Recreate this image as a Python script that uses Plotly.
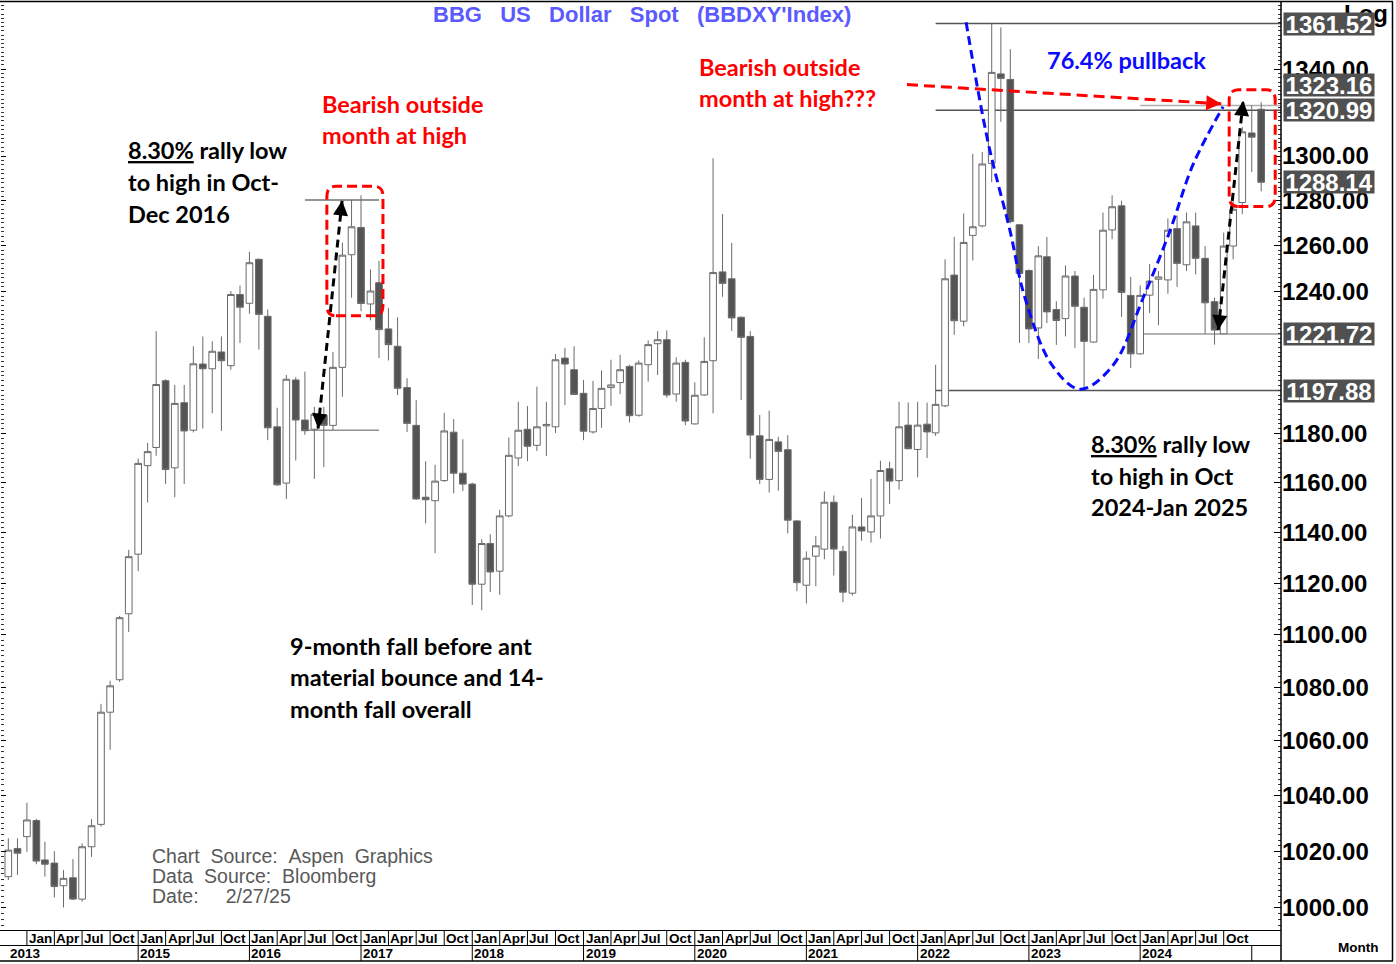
import numpy as np
import pandas as pd
import plotly.graph_objects as go

# ---------------- data (monthly OHLC) ----------------
months = pd.date_range("2013-11-01", periods=136, freq="MS").strftime("%Y-%m-%d").tolist()

open_ = [1011.0, 1021.0,
         1025.2, 1031.0, 1016.9, 1015.8, 1007.8, 1010.6, 1003.1, 1021.6, 1029.6, 1070.7, 1082.9, 1108.1,
         1131.4, 1166.9, 1174.3, 1202.0, 1166.0, 1192.8, 1181.4, 1209.0, 1207.0, 1214.1, 1208.3, 1238.7,
         1234.9, 1254.0, 1229.3, 1182.8, 1159.8, 1202.3, 1185.6, 1181.8, 1187.6, 1183.4, 1207.6, 1256.0,
         1268.0, 1234.6, 1243.8, 1223.9, 1216.5, 1199.1, 1183.4, 1154.1, 1152.7, 1160.8, 1180.6, 1163.8,
         1159.4, 1119.6, 1135.6, 1124.7, 1146.6, 1170.0, 1181.8, 1175.2, 1183.2, 1182.8, 1211.5, 1206.6,
         1196.7, 1180.7, 1190.4, 1199.1, 1201.2, 1208.0, 1187.6, 1208.7, 1217.6, 1219.3, 1196.4, 1209.7,
         1184.0, 1196.0, 1210.4, 1248.5, 1245.5, 1228.9, 1220.7, 1179.1, 1161.3, 1176.6, 1173.4, 1144.6,
         1119.2, 1130.6, 1133.4, 1152.1, 1132.5, 1116.1, 1142.2, 1140.2, 1146.6, 1165.6, 1160.8, 1183.5,
         1173.5, 1183.9, 1180.3, 1191.5, 1247.1, 1227.2, 1264.5, 1268.7, 1296.7, 1337.8, 1335.2, 1269.2,
         1249.1, 1224.3, 1255.1, 1232.2, 1228.3, 1246.7, 1233.2, 1218.3, 1240.7, 1266.9, 1277.6, 1238.3,
         1213.3, 1238.4, 1245.3, 1245.0, 1267.5, 1251.6, 1268.7, 1254.4, 1235.6, 1221.8, 1259.8, 1279.1,
         1310.5, 1321.4]

high = [1024.6, 1024.6,
        1037.4, 1031.6, 1023.4, 1020.0, 1013.3, 1017.2, 1022.8, 1031.5, 1073.8, 1082.5, 1107.3, 1133.1,
        1169.8, 1176.2, 1222.9, 1202.6, 1200.2, 1200.2, 1216.5, 1220.7, 1218.6, 1220.7, 1240.2, 1242.6,
        1257.3, 1254.3, 1232.2, 1190.7, 1204.4, 1203.5, 1205.8, 1191.1, 1191.1, 1214.1, 1261.3, 1280.2,
        1282.3, 1249.6, 1253.3, 1232.9, 1228.9, 1203.0, 1193.9, 1168.7, 1167.2, 1188.6, 1186.0, 1177.7,
        1160.0, 1137.3, 1139.3, 1149.0, 1178.4, 1193.2, 1191.4, 1199.5, 1193.2, 1213.2, 1215.8, 1216.5,
        1202.3, 1201.9, 1206.3, 1210.8, 1212.9, 1208.7, 1210.5, 1219.0, 1222.9, 1223.3, 1211.8, 1210.8,
        1201.3, 1220.3, 1299.0, 1274.0, 1261.2, 1229.2, 1222.9, 1187.7, 1189.5, 1178.7, 1179.4, 1145.0,
        1132.5, 1138.6, 1156.4, 1154.8, 1134.7, 1147.1, 1153.8, 1161.5, 1168.9, 1168.5, 1193.2, 1192.9,
        1193.2, 1192.8, 1208.7, 1254.0, 1263.9, 1274.2, 1301.0, 1301.8, 1361.52, 1359.7, 1349.4, 1269.6,
        1249.6, 1259.8, 1263.8, 1235.8, 1251.3, 1248.9, 1237.3, 1247.2, 1274.6, 1282.3, 1279.9, 1246.3,
        1242.6, 1251.9, 1248.9, 1272.0, 1273.3, 1274.6, 1274.6, 1259.8, 1237.3, 1265.7, 1279.9, 1313.2,
        1323.16, 1324.6]

low = [1009.8, 1011.6,
       1019.8, 1015.4, 1011.0, 1003.7, 1000.2, 1002.8, 1002.2, 1018.0, 1028.8, 1056.7, 1082.1, 1101.1,
       1124.7, 1152.0, 1170.9, 1159.4, 1154.1, 1159.4, 1180.5, 1182.1, 1188.4, 1181.1, 1206.6, 1217.9,
       1230.4, 1215.1, 1177.3, 1158.7, 1153.4, 1169.0, 1179.5, 1161.5, 1166.3, 1181.4, 1195.3, 1237.3,
       1231.5, 1227.6, 1211.5, 1210.5, 1196.0, 1180.7, 1153.0, 1143.6, 1131.8, 1160.3, 1155.7, 1156.6,
       1111.5, 1109.5, 1116.6, 1115.5, 1146.0, 1166.7, 1168.7, 1172.9, 1170.8, 1180.3, 1191.8, 1196.0,
       1177.3, 1180.0, 1182.4, 1191.5, 1196.4, 1184.6, 1187.0, 1201.6, 1204.4, 1194.9, 1193.2, 1183.5,
       1183.7, 1195.6, 1188.4, 1237.7, 1223.0, 1193.9, 1169.7, 1159.4, 1156.0, 1156.7, 1139.6, 1116.9,
       1112.1, 1118.8, 1129.4, 1123.0, 1112.6, 1115.2, 1136.7, 1136.0, 1137.6, 1151.4, 1157.2, 1173.5,
       1162.2, 1170.0, 1179.1, 1191.0, 1221.4, 1225.0, 1253.5, 1268.0, 1288.2, 1315.6, 1269.9, 1217.9,
       1217.9, 1211.1, 1226.4, 1217.1, 1220.7, 1215.8, 1197.88, 1218.0, 1236.9, 1262.8, 1229.0, 1207.3,
       1213.0, 1230.7, 1225.5, 1239.0, 1242.0, 1248.9, 1247.4, 1221.8, 1217.2, 1221.72, 1254.0, 1273.9,
       1292.7, 1284.1]

close = [1020.4, 1019.3,
         1031.2, 1016.5, 1015.4, 1007.5, 1010.4, 1003.1, 1021.6, 1029.1, 1070.7, 1080.6, 1106.6, 1130.4,
         1167.8, 1172.6, 1200.4, 1165.3, 1192.5, 1181.1, 1209.1, 1207.0, 1214.4, 1210.4, 1238.7, 1233.2,
         1252.5, 1230.1, 1182.4, 1159.1, 1202.6, 1185.6, 1181.2, 1188.0, 1183.4, 1207.6, 1255.8, 1268.3,
         1234.8, 1240.2, 1223.6, 1217.2, 1198.8, 1184.2, 1153.4, 1153.1, 1160.6, 1181.1, 1163.8, 1159.4,
         1119.6, 1135.6, 1124.4, 1146.6, 1171.1, 1181.4, 1174.8, 1182.8, 1183.8, 1210.8, 1209.0, 1196.2,
         1181.0, 1190.4, 1198.8, 1200.2, 1206.6, 1187.4, 1209.4, 1217.2, 1219.3, 1196.0, 1209.4, 1185.2,
         1195.9, 1210.1, 1248.2, 1243.5, 1228.6, 1220.3, 1179.4, 1161.3, 1177.6, 1172.7, 1144.9, 1120.2,
         1129.8, 1134.7, 1152.1, 1133.4, 1116.5, 1142.2, 1140.6, 1146.6, 1164.9, 1160.6, 1182.8, 1173.8,
         1183.5, 1180.7, 1192.1, 1245.5, 1227.4, 1261.4, 1268.3, 1296.4, 1338.5, 1335.7, 1270.6, 1247.8,
         1223.9, 1255.5, 1231.2, 1227.5, 1246.7, 1233.6, 1218.6, 1240.9, 1266.8, 1277.2, 1239.6, 1213.3,
         1238.3, 1244.5, 1246.3, 1266.8, 1252.2, 1270.5, 1254.4, 1235.1, 1223.4, 1259.8, 1276.1, 1311.0,
         1308.6, 1288.14]

# axis ticks and highlighted price labels
y_ticks = [1000, 1020, 1040, 1060, 1080, 1100, 1120, 1140, 1160, 1180, 1240, 1260, 1280, 1300, 1340]
y_tick_text = [f"{v:.2f}" for v in y_ticks]
hl_levels = [1361.52, 1323.16, 1320.99, 1288.14, 1221.72, 1197.88]
hl_shift = [0, 20, 0, 0, 0, 0]

# ---------------- geometry helpers ----------------
W, H = 1396, 964
LM, RM, TM, BM = 1, 115, 3, 34
PW, PH = W - LM - RM, H - TM - BM
YMIN, YMAX = 992.35, 1371.3
X_RANGE = ["2013-10-08", "2025-04-07"]


def px(x):
    return (x - LM) / PW


def py(y):
    return (H - BM - y) / PH


FONT_AX = "Liberation Sans, Arial, sans-serif"
FONT_TX = "Lato, Open Sans, sans-serif"
GREY = "#6a6a6a"

fig = go.Figure()

fig.add_trace(go.Candlestick(
    x=months, open=open_, high=high, low=low, close=close,
    increasing=dict(fillcolor="white", line=dict(color=GREY, width=1)),
    decreasing=dict(fillcolor="#545454", line=dict(color=GREY, width=1)),
    whiskerwidth=0, showlegend=False, hoverinfo="skip",
))

# dummy trace so the left tick axis gets drawn
fig.add_trace(go.Scatter(x=[months[0]], y=[1100], yaxis="y2", mode="markers",
                         marker=dict(opacity=0), showlegend=False, hoverinfo="skip"))

# ---------------- dashed drawings ----------------
def dashed(xs, ys, color, dash="9px,5px", width=3, shape="linear"):
    fig.add_trace(go.Scatter(x=xs, y=ys, mode="lines", showlegend=False, hoverinfo="skip",
                             line=dict(color=color, width=width, dash=dash, shape=shape)))


# blue U-shaped curve
cup_x = ["2022-06-09", "2022-08-20", "2022-10-31", "2022-12-19", "2023-03-18", "2023-06-18",
         "2023-10-04", "2024-01-11", "2024-04-08", "2024-06-23", "2024-09-29"]
cup_y = [1362.1, 1306.3, 1266.6, 1237.3, 1208.5, 1198.4, 1208.5, 1237.3, 1266.6, 1296.3, 1322.5]
dashed(cup_x, cup_y, "#0a0aff", shape="spline")

# black rally arrows and red arrow
dashed(["2016-08-13", "2016-10-31"], [1182.1, 1280.0], "black", dash="8px,5px")
dashed(["2024-09-13", "2024-12-04"], [1223.4, 1325.3], "black", dash="8px,5px")
dashed(["2021-11-27", "2024-09-23"], [1332.8, 1323.9], "#ff0000", dash="11px,6px")

shapes = []

# horizontal reference lines
def hline(x0, x1, y, color, width=1.5):
    shapes.append(dict(type="line", xref="x", yref="y", x0=x0, x1=x1, y0=y, y1=y,
                       line=dict(color=color, width=width), layer="below"))


hline("2022-03-01", X_RANGE[1], 1361.52, "#555555")
hline("2022-03-01", X_RANGE[1], 1320.99, "#555555")
hline("2022-03-01", X_RANGE[1], 1197.88, "#555555")
hline("2024-01-01", X_RANGE[1], 1221.72, "#9a9a9a")
hline("2024-01-01", X_RANGE[1], 1323.16, "#b0b0b0")
hline("2016-07-01", "2017-03-01", 1280.2, "#707070")
hline("2016-07-01", "2017-03-01", 1181.4, "#909090")


def rrect(x0, x1, y0, y1, rdays=30, rf=1.0036):
    a, b = pd.Timestamp(x0), pd.Timestamp(x1)
    d = pd.Timedelta(days=rdays)
    f = lambda t: t.strftime("%Y-%m-%d")
    p = (f"M{f(a + d)},{y0} L{f(b - d)},{y0} Q{f(b)},{y0} {f(b)},{y0 * rf} "
         f"L{f(b)},{y1 / rf} Q{f(b)},{y1} {f(b - d)},{y1} L{f(a + d)},{y1} "
         f"Q{f(a)},{y1} {f(a)},{y1 / rf} L{f(a)},{y0 * rf} Q{f(a)},{y0} {f(a + d)},{y0} Z")
    shapes.append(dict(type="path", xref="x", yref="y", path=p,
                       line=dict(color="#ff0000", width=3, dash="10px,5px")))


rrect("2016-09-11", "2017-03-14", 1229.5, 1286.4)
rrect("2024-10-19", "2025-03-19", 1277.3, 1330.4)

# frame and x-axis band
def pline(x0, y0, x1, y1, color="black", width=1):
    shapes.append(dict(type="line", xref="paper", yref="paper", x0=px(x0), x1=px(x1),
                       y0=py(y0), y1=py(y1), line=dict(color=color, width=width)))


pline(0, 1.5, 1393, 1.5, width=1.5)
pline(1392.5, 1.5, 1392.5, 961, width=1.5)
pline(0, 961, 1393, 961, width=1.5)
pline(0, 930.5, 1281, 930.5)
pline(0, 945.5, 1281, 945.5)
pline(1281, 1.5, 1281, 961, width=1.5)

band_month = py(945.5)
band_year = py(961)
quarters = pd.date_range("2014-01-01", "2024-10-01", freq="QS")
for q in quarters:
    shapes.append(dict(type="line", xref="x", yref="paper", x0=q.strftime("%Y-%m-%d"),
                       x1=q.strftime("%Y-%m-%d"), y0=0, y1=band_month,
                       line=dict(color="black", width=1)))
years = pd.date_range("2015-01-01", "2025-01-01", freq="YS")
for yv in years:
    shapes.append(dict(type="line", xref="x", yref="paper", x0=yv.strftime("%Y-%m-%d"),
                       x1=yv.strftime("%Y-%m-%d"), y0=band_month, y1=band_year,
                       line=dict(color="black", width=1)))

annotations = []
for q in quarters:
    annotations.append(dict(x=q.strftime("%Y-%m-%d"), y=py(938), xref="x", yref="paper",
                            text="<b>" + q.strftime("%b") + "</b>", showarrow=False,
                            xanchor="left", yanchor="middle", xshift=0,
                            font=dict(family=FONT_AX, size=13.5, color="black")))
year_labels = [("2013-11-01", "2013")] + [(yv.strftime("%Y-%m-%d"), yv.strftime("%Y")) for yv in years[:-1]]
for xd, lab in year_labels:
    annotations.append(dict(x=xd, y=py(953.5), xref="x", yref="paper", text="<b>" + lab + "</b>",
                            showarrow=False, xanchor="left", yanchor="middle",
                            font=dict(family=FONT_AX, size=13.5, color="black")))
annotations.append(dict(x=px(1358), y=py(947), xref="paper", yref="paper", text="<b>Month</b>",
                        showarrow=False, xanchor="center", yanchor="middle",
                        font=dict(family=FONT_AX, size=13.5, color="black")))

# "Log" (drawn before highlight boxes so it sits beneath them)
annotations.append(dict(x=px(1342), y=py(13), xref="paper", yref="paper", text="<b>Log</b>",
                        showarrow=False, xanchor="left", yanchor="middle",
                        font=dict(family=FONT_AX, size=24, color="black")))

# highlighted price labels
for lv, sh in zip(hl_levels, hl_shift):
    annotations.append(dict(x=px(1283), y=np.log10(lv), xref="paper", yref="y",
                            text=f"<b>{lv:.2f}</b>", showarrow=False, xanchor="left",
                            yanchor="middle", yshift=sh, width=90, height=22, borderpad=0,
                            bgcolor="#505050", align="center",
                            font=dict(family=FONT_AX, size=24, color="white")))

# title
annotations.append(dict(x=px(641.5), y=py(14), xref="paper", yref="paper",
                        text="<b>BBG\u00a0\u00a0\u00a0US\u00a0\u00a0\u00a0Dollar\u00a0\u00a0\u00a0Spot\u00a0\u00a0\u00a0(BBDXY'Index)</b>",
                        showarrow=False, xanchor="center", yanchor="middle",
                        font=dict(family=FONT_AX, size=22, color="#5a5aff")))

# commentary text
RED, BLUE, BLK = "#ff0000", "#0a0aff", "black"
notes = [
    (126, 150, "<u>8.30%</u> rally low", BLK),
    (126, 182, "to high in Oct-", BLK),
    (126, 214, "Dec 2016", BLK),
    (320, 104, "Bearish outside", RED),
    (320, 135, "month at high", RED),
    (288, 646, "9-month fall before ant", BLK),
    (288, 677, "material bounce and 14-", BLK),
    (288, 709, "month fall overall", BLK),
    (697, 67, "Bearish outside", RED),
    (697, 98, "month at high???", RED),
    (1045, 60, "76.4% pullback", BLUE),
    (1089, 444, "<u>8.30%</u> rally low", BLK),
    (1089, 476, "to high in Oct", BLK),
    (1089, 507, "2024-Jan 2025", BLK),
]
for xx, yy, t, c in notes:
    annotations.append(dict(x=px(xx), y=py(yy), xref="paper", yref="paper", text="<b>" + t + "</b>",
                            showarrow=False, xanchor="left", yanchor="middle",
                            font=dict(family=FONT_TX, size=23.5, color=c)))

sources = [(856, "Chart\u00a0\u00a0Source:\u00a0\u00a0Aspen\u00a0\u00a0Graphics"),
           (876, "Data\u00a0\u00a0Source:\u00a0\u00a0Bloomberg"),
           (896, "Date:\u00a0\u00a0\u00a0\u00a0\u00a02/27/25")]
for yy, t in sources:
    annotations.append(dict(x=px(150), y=py(yy), xref="paper", yref="paper", text=t,
                            showarrow=False, xanchor="left", yanchor="middle",
                            font=dict(family=FONT_AX, size=19.5, color="#595959")))

# arrowheads
heads = [
    ("2016-10-31", 1280.0, -1.5, 14, "black"),
    ("2016-08-13", 1182.1, 1.5, -14, "black"),
    ("2024-12-04", 1325.3, -1.5, 14, "black"),
    ("2024-09-13", 1223.4, 1.5, -14, "black"),
    ("2024-09-23", 1323.9, -14, -0.9, "#ff0000"),
]
for xd, yv, ax, ay, c in heads:
    annotations.append(dict(x=xd, y=np.log10(yv), xref="x", yref="y", text="", showarrow=True,
                            ax=ax, ay=ay, axref="pixel", ayref="pixel", arrowhead=2, arrowsize=1,
                            arrowwidth=3, arrowcolor=c, standoff=0))

minor_vals = list(range(994, 1372, 2))
fig.update_layout(
    width=W, height=H, margin=dict(l=LM, r=RM, t=TM, b=BM, pad=0),
    paper_bgcolor="white", plot_bgcolor="white", showlegend=False, hovermode=False,
    boxgap=0.22, boxgroupgap=0,
    xaxis=dict(type="date", range=X_RANGE, showticklabels=False, showgrid=False, zeroline=False,
               showline=False, ticks="", rangeslider=dict(visible=False), fixedrange=True),
    yaxis=dict(type="log", side="right", range=[np.log10(YMIN), np.log10(YMAX)],
               tickmode="array", tickvals=y_ticks, ticktext=y_tick_text, ticks="inside",
               ticklen=7, tickcolor="black", showline=False, showgrid=False, zeroline=False,
               tickfont=dict(family=FONT_AX, size=24, color="black", weight="bold"),
               minor=dict(tickmode="array", tickvals=minor_vals, ticks="inside", ticklen=3,
                          tickcolor="#333333", showgrid=False),
               fixedrange=True),
    yaxis2=dict(type="log", side="left", overlaying="y", range=[np.log10(YMIN), np.log10(YMAX)],
                tickmode="array", tickvals=y_ticks, showticklabels=False, ticks="inside",
                ticklen=5, tickcolor="black", showgrid=False, zeroline=False, showline=False,
                minor=dict(tickmode="array", tickvals=minor_vals, ticks="inside", ticklen=3,
                           tickcolor="#333333", showgrid=False),
                fixedrange=True),
    shapes=shapes, annotations=annotations,
)

fig.write_html("out.html", config={"displayModeBar": False},
               post_script="document.body.style.margin='0px';")
